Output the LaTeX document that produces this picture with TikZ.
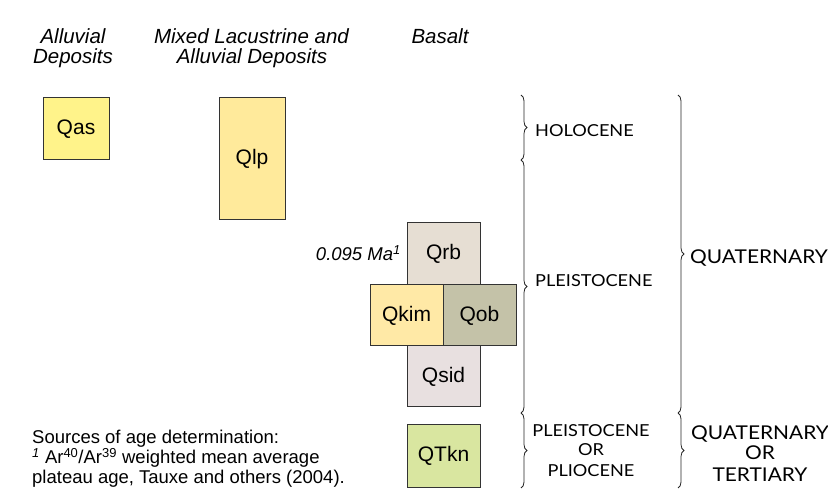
\documentclass[tikz,border=0pt]{standalone}
\usepackage{fontspec}
\setmainfont{Liberation Sans}
\newfontfamily\eraf[FakeStretch=1.1]{Lato}
\usetikzlibrary{decorations.pathreplacing}
\definecolor{cqas}{HTML}{FFF38A}
\definecolor{cqlp}{HTML}{FFEA9B}
\definecolor{cqrb}{HTML}{E6DED3}
\definecolor{cqkim}{HTML}{FFE9A6}
\definecolor{cqob}{HTML}{C4C2A8}
\definecolor{cqsid}{HTML}{E8E0E0}
\definecolor{cqtkn}{HTML}{D9E6A0}
\definecolor{edge}{HTML}{333333}
\begin{document}
\begin{tikzpicture}[x=1pt,y=-1pt,
  unit/.style={draw=edge, line width=1pt, inner sep=0pt, minimum width=#1,
    font=\fontsize{21}{24}\selectfont},
  head/.style={anchor=base, inner sep=0pt, font=\fontsize{20.5}{24}\selectfont\itshape},
  note/.style={anchor=base west, inner sep=0pt, font=\fontsize{18.5}{22}\selectfont},
  era/.style={inner sep=0pt, font=\fontsize{16.5}{20}\selectfont\eraf},
  bigera/.style={inner sep=0pt, font=\fontsize{19}{22}\selectfont\eraf},
  brc/.style={draw=black!85, line width=0.8pt, decorate, decoration={brace, amplitude=6pt}}]
\useasboundingbox (0,0) rectangle (828,494);
% headings
\node[head] (h1a) at (73,44) {Alluvial};
\node[head] (h1b) at (73,63.5) {Deposits};
\node[head] (h2a) at (251.5,43.5) {Mixed Lacustrine and};
\node[head] (h2b) at (252,64) {Alluvial Deposits};
\node[head] (h3) at (440,44) {Basalt};
% units
\node[unit=66pt, minimum height=62pt, fill=cqas] (qas) at (76,129) {Qas};
\node[unit=66pt, minimum height=122pt, fill=cqlp] (qlp) at (252,159) {Qlp};
\node[unit=73pt, minimum height=62pt, fill=cqrb] (qrb) at (443.5,254) {Qrb};
\node[unit=73pt, minimum height=61pt, fill=cqkim] (qkim) at (406.5,315.5) {Qkim};
\node[unit=73pt, minimum height=61pt, fill=cqob] (qob) at (479.5,315.5) {Qob};
\node[unit=73pt, minimum height=61pt, fill=cqsid] (qsid) at (443.5,376.5) {Qsid};
\node[unit=73pt, minimum height=62pt, fill=cqtkn] (qtkn) at (443.5,456) {QTkn};
% age label
\node[anchor=base east, inner sep=0pt, font=\fontsize{18.5}{22}\selectfont\itshape] (age) at (401,261) {0.095 Ma$^{\mathit 1}$};
% footnote
\node[note] (n1) at (32,444) {Sources of age determination:};
\node[note] (n2) at (32,463.5) {\textsuperscript{\itshape 1} Ar\textsuperscript{40}/Ar\textsuperscript{39} weighted mean average};
\node[note] (n3) at (32,483) {plateau age, Tauxe and others (2004).};
% braces, epochs
\coordinate (b1) at (521,95);
\coordinate (b2) at (521,160);
\coordinate (b3) at (521,413);
\coordinate (b4) at (521,488);
\draw[brc] (b1) -- (b2);
\draw[brc] (b2) -- (b3);
\draw[brc] (b3) -- (b4);
\node[era, anchor=base west] (holo) at (535,137) {HOLOCENE};
\node[era, anchor=base west] (pleis) at (535,287) {PLEISTOCENE};
\node[era, anchor=base] (pp1) at (591,436) {PLEISTOCENE};
\node[era, anchor=base] (pp2) at (591,456) {OR};
\node[era, anchor=base] (pp3) at (591,476.5) {PLIOCENE};
% braces, periods
\coordinate (c1) at (678,95);
\coordinate (c2) at (678,413);
\coordinate (c3) at (678,488);
\draw[brc] (c1) -- (c2);
\draw[brc] (c2) -- (c3);
\node[bigera, anchor=base west] (quat) at (690,264) {QUATERNARY};
\node[bigera, anchor=base] (qt1) at (760,439) {QUATERNARY};
\node[bigera, anchor=base] (qt2) at (760,460) {OR};
\node[bigera, anchor=base] (qt3) at (760,481) {TERTIARY};
\end{tikzpicture}
\end{document}
